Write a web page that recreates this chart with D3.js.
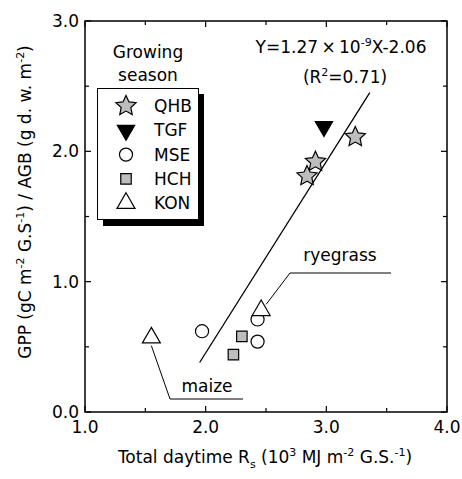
<!DOCTYPE html>
<html>
<head>
<meta charset="utf-8">
<script src="https://cdn.jsdelivr.net/npm/d3@7"></script>
<style>
  body { margin: 0; background: #fff; }
  text { font-family: "DejaVu Sans", Verdana, sans-serif; fill: #000; }
</style>
</head>
<body>
<div id="chart"></div>
<script>
// site data (x: 10^3 MJ m-2 G.S.-1, y: GPP/AGB)
const qhbX = [3.24, 2.91, 2.84];
const qhbY = [2.11, 1.92, 1.81];
const tgfX = [2.98];
const tgfY = [2.19];
const mseX = [1.97, 2.43, 2.43];
const mseY = [0.62, 0.54, 0.71];
const hchX = [2.30, 2.23];
const hchY = [0.58, 0.44];
const konX = [2.46, 1.55];
const konY = [0.78, 0.57];
const fitX = [1.95, 3.36];
const fitY = [0.38, 2.45];
const xTicks = [1.0, 2.0, 3.0, 4.0];
const yTicks = [0.0, 1.0, 2.0, 3.0];
const legendNames = ["QHB", "TGF", "MSE", "HCH", "KON"];

const width = 462, height = 479;
const margin = {left: 85, right: 15, top: 21, bottom: 67};
const fs = "17px", sub = "11px";

const svg = d3.select("#chart").append("svg")
  .attr("width", width)
  .attr("height", height);

const x = d3.scaleLinear().domain([1, 4]).range([margin.left, width - margin.right]);
const y = d3.scaleLinear().domain([0, 3]).range([height - margin.bottom, margin.top]);

const minorX = d3.range(1, 4.01, 0.5);
const minorY = d3.range(0, 3.01, 0.5);

// ticks on all four sides, pointing inward
const ax = svg.append("g").attr("stroke", "#000").attr("stroke-width", 1.2);
minorX.forEach(v => {
  const len = Number.isInteger(v) ? 6 : 4;
  ax.append("line").attr("x1", x(v)).attr("x2", x(v)).attr("y1", y(0)).attr("y2", y(0) - len);
  ax.append("line").attr("x1", x(v)).attr("x2", x(v)).attr("y1", y(3)).attr("y2", y(3) + len);
});
minorY.forEach(v => {
  const len = Number.isInteger(v) ? 6 : 4;
  ax.append("line").attr("y1", y(v)).attr("y2", y(v)).attr("x1", x(1)).attr("x2", x(1) + len);
  ax.append("line").attr("y1", y(v)).attr("y2", y(v)).attr("x1", x(4)).attr("x2", x(4) - len);
});

svg.append("rect")
  .attr("x", x(1)).attr("y", y(3))
  .attr("width", x(4) - x(1)).attr("height", y(0) - y(3))
  .attr("fill", "none").attr("stroke", "#000").attr("stroke-width", 1.5);

svg.selectAll(".xt").data(xTicks).enter().append("text")
  .attr("x", d => x(d)).attr("y", y(0) + 21)
  .attr("text-anchor", "middle").attr("font-size", fs)
  .text(d => d.toFixed(1));

svg.selectAll(".yt").data(yTicks).enter().append("text")
  .attr("x", x(1) - 6).attr("y", d => y(d) + 6)
  .attr("text-anchor", "end").attr("font-size", fs)
  .text(d => d.toFixed(1));

// axis titles
const xt = svg.append("text")
  .attr("x", 265).attr("y", 463)
  .attr("text-anchor", "middle").attr("font-size", fs);
xt.append("tspan").text("Total daytime R");
xt.append("tspan").attr("font-size", sub).attr("dy", 5).text("s");
xt.append("tspan").attr("dy", -5).text(" (10");
xt.append("tspan").attr("font-size", sub).attr("dy", -7).text("3");
xt.append("tspan").attr("dy", 7).text(" MJ m");
xt.append("tspan").attr("font-size", sub).attr("dy", -7).text("-2");
xt.append("tspan").attr("dy", 7).text(" G.S.");
xt.append("tspan").attr("font-size", sub).attr("dy", -7).text("-1");
xt.append("tspan").attr("dy", 7).text(")");

const yt = svg.append("text")
  .attr("transform", `translate(31, 202) rotate(-90)`)
  .attr("text-anchor", "middle").attr("font-size", fs);
yt.append("tspan").text("GPP (gC m");
yt.append("tspan").attr("font-size", sub).attr("dy", -7).text("-2");
yt.append("tspan").attr("dy", 7).text(" G.S");
yt.append("tspan").attr("font-size", sub).attr("dy", -7).text("-1");
yt.append("tspan").attr("dy", 7).text(") / AGB (g d. w. m");
yt.append("tspan").attr("font-size", sub).attr("dy", -7).text("-2");
yt.append("tspan").attr("dy", 7).text(")");

// regression line
svg.append("line")
  .attr("x1", x(fitX[0])).attr("y1", y(fitY[0]))
  .attr("x2", x(fitX[1])).attr("y2", y(fitY[1]))
  .attr("stroke", "#000").attr("stroke-width", 1.3);

// equation
const eq = svg.append("text")
  .attr("x", 341).attr("y", 53)
  .attr("text-anchor", "middle").attr("font-size", fs);
eq.append("tspan").text("Y=1.27\u2009\u00d7\u200910");
eq.append("tspan").attr("font-size", sub).attr("dy", -7).text("-9");
eq.append("tspan").attr("dy", 7).text("X-2.06");
const r2 = svg.append("text")
  .attr("x", 345).attr("y", 83)
  .attr("text-anchor", "middle").attr("font-size", fs);
r2.append("tspan").text("(R");
r2.append("tspan").attr("font-size", sub).attr("dy", -7).text("2");
r2.append("tspan").attr("dy", 7).text("=0.71)");

// annotation leaders
svg.append("polyline")
  .attr("points", [[x(konX[0]) + 5, y(konY[0]) - 6], [290, 273], [391, 273]].join(" "))
  .attr("fill", "none").attr("stroke", "#000").attr("stroke-width", 1);
svg.append("text").attr("x", 340).attr("y", 261).attr("text-anchor", "middle").attr("font-size", fs).text("ryegrass");
svg.append("polyline")
  .attr("points", [[x(konX[1]), y(konY[1]) + 8], [170, 399], [243, 399]].join(" "))
  .attr("fill", "none").attr("stroke", "#000").attr("stroke-width", 1);
svg.append("text").attr("x", 207).attr("y", 392).attr("text-anchor", "middle").attr("font-size", fs).text("maize");

// fatter 5-point star like the plotting program's
const fatStar = {
  draw(ctx, size) {
    const r = Math.sqrt(size * 0.75), ri = r * 0.48;
    for (let k = 0; k < 10; k++) {
      const a = -Math.PI / 2 + k * Math.PI / 5, rr = k % 2 ? ri : r;
      const px = rr * Math.cos(a), py = rr * Math.sin(a);
      k ? ctx.lineTo(px, py) : ctx.moveTo(px, py);
    }
    ctx.closePath();
  }
};

// markers
const gray = "#bdbdbd";
const styles = {
  QHB: {type: fatStar, size: 150, fill: gray, rot: 0},
  TGF: {type: d3.symbolTriangle, size: 130, fill: "#000", rot: 180},
  MSE: {type: d3.symbolCircle, size: 135, fill: "#fff", rot: 0},
  HCH: {type: d3.symbolSquare, size: 110, fill: gray, rot: 0},
  KON: {type: d3.symbolTriangle, size: 140, fill: "#fff", rot: 0}
};
const series = [
  {name: "QHB", xs: qhbX, ys: qhbY},
  {name: "TGF", xs: tgfX, ys: tgfY},
  {name: "MSE", xs: mseX, ys: mseY},
  {name: "HCH", xs: hchX, ys: hchY},
  {name: "KON", xs: konX, ys: konY}
];

function drawSym(g, name, cx, cy) {
  const s = styles[name];
  g.append("path")
    .attr("d", d3.symbol().type(s.type).size(s.size)())
    .attr("transform", `translate(${cx},${cy}) rotate(${s.rot})`)
    .attr("fill", s.fill).attr("stroke", "#000").attr("stroke-width", 1.2);
}

const pts = svg.append("g");
series.forEach(sr => {
  sr.xs.forEach((v, i) => drawSym(pts, sr.name, x(v), y(sr.ys[i])));
});

// legend
svg.append("text").attr("x", 148).attr("y", 58).attr("text-anchor", "middle").attr("font-size", fs).text("Growing");
svg.append("text").attr("x", 148).attr("y", 81).attr("text-anchor", "middle").attr("font-size", fs).text("season");

const lg = svg.append("g");
lg.append("rect").attr("x", 103).attr("y", 94).attr("width", 101).attr("height", 132).attr("fill", "#000");
lg.append("rect").attr("x", 97.5).attr("y", 88.5).attr("width", 101).attr("height", 131)
  .attr("fill", "#fff").attr("stroke", "#000").attr("stroke-width", 1);
legendNames.forEach((n, i) => {
  const cy = 106 + i * 24.3;
  drawSym(lg, n, 126, cy);
  lg.append("text").attr("x", 154).attr("y", cy + 6).attr("font-size", fs).text(n);
});
</script>
</body>
</html>
